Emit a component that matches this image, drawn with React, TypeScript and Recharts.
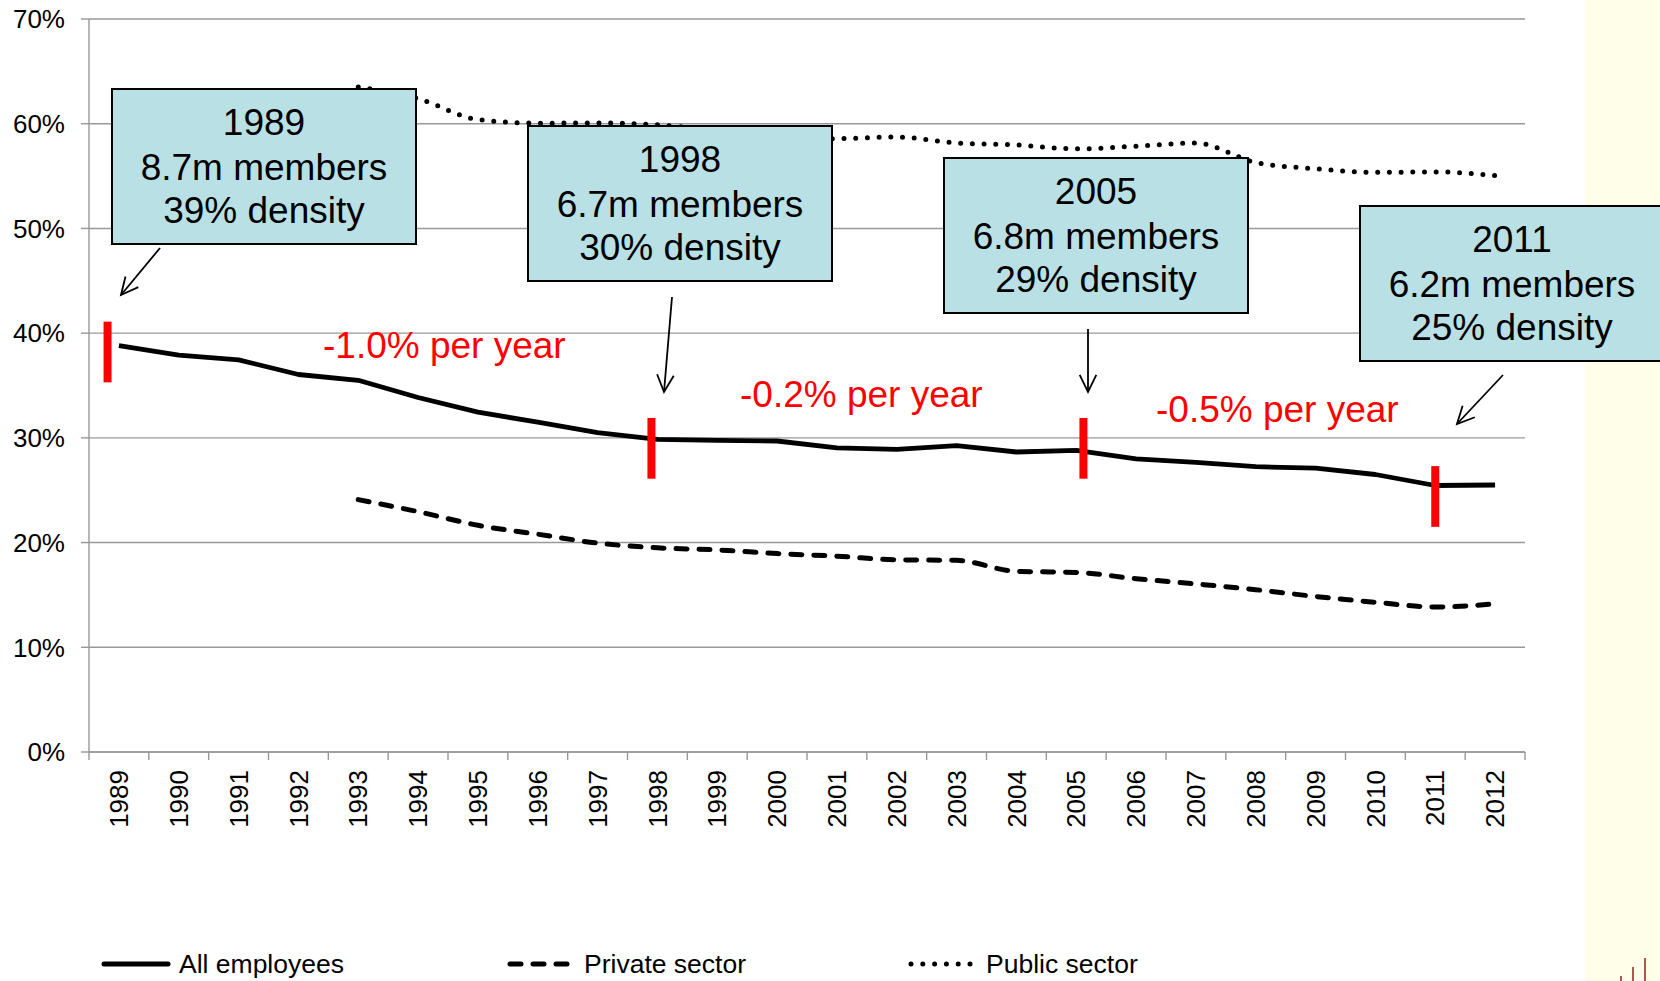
import React from 'react';
import { LineChart, Line, XAxis, YAxis, CartesianGrid, ReferenceLine, Legend } from 'recharts';

// ---------- data ----------
const years = [1989, 1990, 1991, 1992, 1993, 1994, 1995, 1996, 1997, 1998, 1999, 2000,
  2001, 2002, 2003, 2004, 2005, 2006, 2007, 2008, 2009, 2010, 2011, 2012];

const allEmployees = [38.8, 37.9, 37.45, 36.05, 35.5, 33.85, 32.45, 31.5, 30.5, 29.85, 29.75, 29.7,
  29.05, 28.9, 29.25, 28.65, 28.8, 28.0, 27.65, 27.25, 27.1, 26.5, 25.45, 25.5];

const privateSector = [null, null, null, null, 24.1, 22.95, 21.65, 20.8, 19.95, 19.5, 19.3, 18.95,
  18.7, 18.35, 18.3, 17.25, 17.15, 16.55, 16.05, 15.5, 14.85, 14.3, 13.85, 14.15];

const publicSector = [null, null, null, null, 63.5, 62.4, 60.4, 60.05, 60.07, 59.9, 59.3, 58.8,
  58.57, 58.73, 58.16, 57.97, 57.6, 57.85, 58.15, 56.3, 55.7, 55.36, 55.4, 55.05];

const seriesNames = ['All employees', 'Private sector', 'Public sector'];

const yTicks = [0, 10, 20, 30, 40, 50, 60, 70];

// red period markers (x in years, y range in %)
const markerX = [1988.81, 1997.9, 2005.12, 2011.0];
const markerLow = [35.3, 26.1, 26.1, 21.5];
const markerHigh = [41.1, 31.9, 31.9, 27.3];

const calloutYears = ['1989', '1998', '2005', '2011'];
const calloutMembers = ['8.7m members', '6.7m members', '6.8m members', '6.2m members'];
const calloutDensity = ['39% density', '30% density', '29% density', '25% density'];

const rateLabels = ['-1.0% per year', '-0.2% per year', '-0.5% per year'];

// ---------- derived ----------
const data = years.map((y, i) => ({
  year: y,
  all: allEmployees[i],
  priv: privateSector[i],
  pub: publicSector[i],
}));

const xTicks: number[] = [];
years.forEach((y) => { xTicks.push(y - 0.5); xTicks.push(y); });
xTicks.push(years[years.length - 1] + 0.5);

const FONT = '"Liberation Sans", Arial, Helvetica, sans-serif';
const GRID = '#989898';
const TICK_SIZE = 8;
const TICK_MARGIN = 10;

const XTick = (props: any) => {
  const { x, y, payload } = props;
  const v = payload.value as number;
  const axisY = y - TICK_SIZE - TICK_MARGIN;
  if (!Number.isInteger(v)) {
    return <line x1={x} x2={x} y1={axisY} y2={axisY + TICK_SIZE} stroke={GRID} strokeWidth={1.4} />;
  }
  return (
    <text x={x} y={y} transform={`rotate(-90 ${x} ${y})`} textAnchor="end" dy="0.35em"
      fontSize={26} fontFamily={FONT} fill="#000">{v}</text>
  );
};

const legendX = [102, 508, 909];
const legendLen = [66, 59, 64];
const legendText = [179, 584, 986];
const legendDash = [undefined, '11 12', '0 11.8'];

const LegendContent = (props: any) => {
  const payload = props.payload || [];
  return (
    <svg width={1660} height={40} style={{ display: 'block' }}>
      {payload.map((p: any, i: number) => (
        <g key={i}>
          <line x1={legendX[i] + 2} x2={legendX[i] + legendLen[i]} y1={19} y2={19}
            stroke="#000" strokeWidth={5} strokeLinecap="round" strokeDasharray={legendDash[i]} />
          <text x={legendText[i]} y={28} fontSize={26.5} fontFamily={FONT} fill="#000">{p.value}</text>
        </g>
      ))}
    </svg>
  );
};

// callout geometry
const boxX = [112, 528, 944, 1360];
const boxY = [89, 126, 158, 206];
const BOX_W = 304;
const BOX_H = 155;
const arrows = [
  [160, 248, 121, 295],
  [672, 297, 664, 392],
  [1088, 329, 1088, 392],
  [1503, 375, 1457, 424],
];
const rateX = [323, 740, 1156];
const rateY = [358, 407, 422];

const Arrow = ({ a }: { a: number[] }) => {
  const [x1, y1, x2, y2] = a;
  const ang = Math.atan2(y2 - y1, x2 - x1);
  const L = 19;
  const spread = (26 * Math.PI) / 180;
  const lx = x2 - L * Math.cos(ang - spread);
  const ly = y2 - L * Math.sin(ang - spread);
  const rx = x2 - L * Math.cos(ang + spread);
  const ry = y2 - L * Math.sin(ang + spread);
  return (
    <g stroke="#000" strokeWidth={1.8} fill="none">
      <line x1={x1} y1={y1} x2={x2} y2={y2} />
      <polyline points={`${lx},${ly} ${x2},${y2} ${rx},${ry}`} />
    </g>
  );
};

export default function App() {
  return (
    <div style={{ position: 'absolute', left: 0, top: 0, width: 1660, height: 981, overflow: 'hidden', background: '#fff', fontFamily: FONT }}>
      <div style={{ position: 'absolute', left: 1585, top: 0, width: 75, height: 981, background: '#FFFEE9' }} />
      <div style={{ position: 'absolute', left: 0, top: 0 }}>
        <LineChart width={1660} height={981} data={data} margin={{ top: 19, right: 135, left: 0, bottom: 129 }}>
          <CartesianGrid vertical={false} stroke={GRID} strokeWidth={1.4} />
          <XAxis type="number" dataKey="year" domain={[1988.5, 2012.5]} ticks={xTicks} interval={0}
            allowDecimals tick={<XTick />} tickLine={false} tickSize={TICK_SIZE} tickMargin={TICK_MARGIN}
            axisLine={{ stroke: GRID, strokeWidth: 1.4 }} height={100} />
          <YAxis type="number" domain={[0, 70]} ticks={yTicks} interval={0} width={89}
            tickFormatter={(v: number) => `${v}%`} tick={{ fontSize: 26, fill: '#000', fontFamily: FONT }}
            tickLine={{ stroke: GRID, strokeWidth: 1.4 }} tickSize={8} tickMargin={16}
            axisLine={{ stroke: GRID, strokeWidth: 1.4 }} />
          <Line name={seriesNames[0]} dataKey="all" type="linear" stroke="#000" strokeWidth={4.8}
            dot={false} activeDot={false} isAnimationActive={false} strokeLinejoin="round" />
          <Line name={seriesNames[1]} dataKey="priv" type="monotone" stroke="#000" strokeWidth={5}
            strokeDasharray="11 12" strokeLinecap="round" dot={false} activeDot={false} isAnimationActive={false} />
          <Line name={seriesNames[2]} dataKey="pub" type="monotone" stroke="#000" strokeWidth={5}
            strokeDasharray="0 11.7" strokeLinecap="round" dot={false} activeDot={false} isAnimationActive={false} />
          {markerX.map((mx, i) => (
            <ReferenceLine key={i} segment={[{ x: mx, y: markerLow[i] }, { x: mx, y: markerHigh[i] }]}
              stroke="#FF0000" strokeWidth={8} ifOverflow="visible" />
          ))}
          <Legend layout="horizontal" verticalAlign="middle" align="center"
            wrapperStyle={{ top: 945, left: 0, width: 1660, height: 40 }} content={<LegendContent />} />
        </LineChart>
      </div>
      <svg width={1660} height={981} style={{ position: 'absolute', left: 0, top: 0, pointerEvents: 'none' }}>
        {calloutYears.map((yr, i) => (
          <g key={i}>
            <rect x={boxX[i]} y={boxY[i]} width={BOX_W} height={BOX_H} fill="#B9E0E4" stroke="#000" strokeWidth={2} />
            <text x={boxX[i] + BOX_W / 2} textAnchor="middle" fontSize={37} fontFamily={FONT} fill="#000">
              <tspan x={boxX[i] + BOX_W / 2} y={boxY[i] + 46}>{yr}</tspan>
              <tspan x={boxX[i] + BOX_W / 2} y={boxY[i] + 91}>{calloutMembers[i]}</tspan>
              <tspan x={boxX[i] + BOX_W / 2} y={boxY[i] + 134}>{calloutDensity[i]}</tspan>
            </text>
          </g>
        ))}
        {arrows.map((a, i) => <Arrow key={i} a={a} />)}
        {rateLabels.map((t, i) => (
          <text key={i} x={rateX[i]} y={rateY[i]} fontSize={37} fontFamily={FONT} fill="#FF0000">{t}</text>
        ))}
        <rect x={1620} y={976} width={2} height={5} fill="#B85450" />
        <rect x={1632} y={967} width={2} height={14} fill="#B85450" />
        <rect x={1644} y={958} width={2} height={23} fill="#B85450" />
      </svg>
    </div>
  );
}
